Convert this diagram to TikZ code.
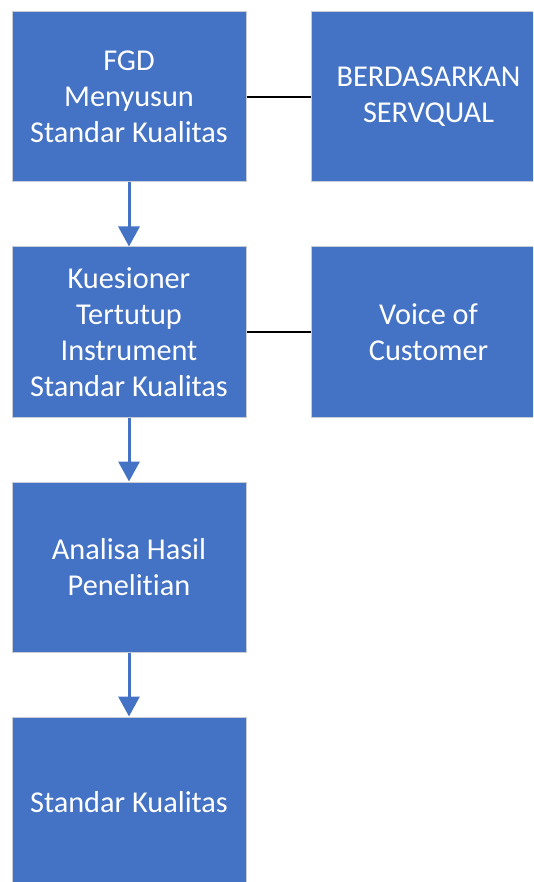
\documentclass[tikz,border=0pt]{standalone}
\usepackage{fontspec}
\setmainfont{Carlito}[Ligatures=NoCommon]
\usetikzlibrary{arrows.meta}
\definecolor{boxblue}{HTML}{4472C4}
\definecolor{boxedge}{HTML}{C8CCD4}
\begin{document}
\begin{tikzpicture}[x=1pt,y=-1pt,
  blk/.style={draw=boxedge, line width=1pt, fill=boxblue, minimum width=234pt, minimum height=170pt,
    inner sep=0pt, text=white, align=center, font=\fontsize{30.3}{36}\selectfont},
  flow/.style={draw=boxblue, line width=3pt, -{Triangle[length=20pt,width=21pt]}},
  link/.style={draw=black, line width=1.6pt}]
\useasboundingbox (0,0) rectangle (533,882);
\clip (0,0) rectangle (533,882);
\node[blk] (a) at (129,97) {FGD\\Menyusun\\Standar Kualitas};
\node[blk] (b) at (428.5,97) {BERDASARKAN\\SERVQUAL};
\node[blk] (c) at (129,332) {Kuesioner\\Tertutup\\Instrument\\Standar Kualitas};
\node[blk] (d) at (428.5,332) {Voice of\\Customer};
\node[blk] (e) at (129,567) {Analisa Hasil\\Penelitian};
\node[blk] (f) at (129,802) {Standar Kualitas};
\draw[flow] (a.south) -- (c.north);
\draw[flow] (c.south) -- (e.north);
\draw[flow] (e.south) -- (f.north);
\draw[link] (a.east) -- (b.west);
\draw[link] (c.east) -- (d.west);
\end{tikzpicture}
\end{document}
